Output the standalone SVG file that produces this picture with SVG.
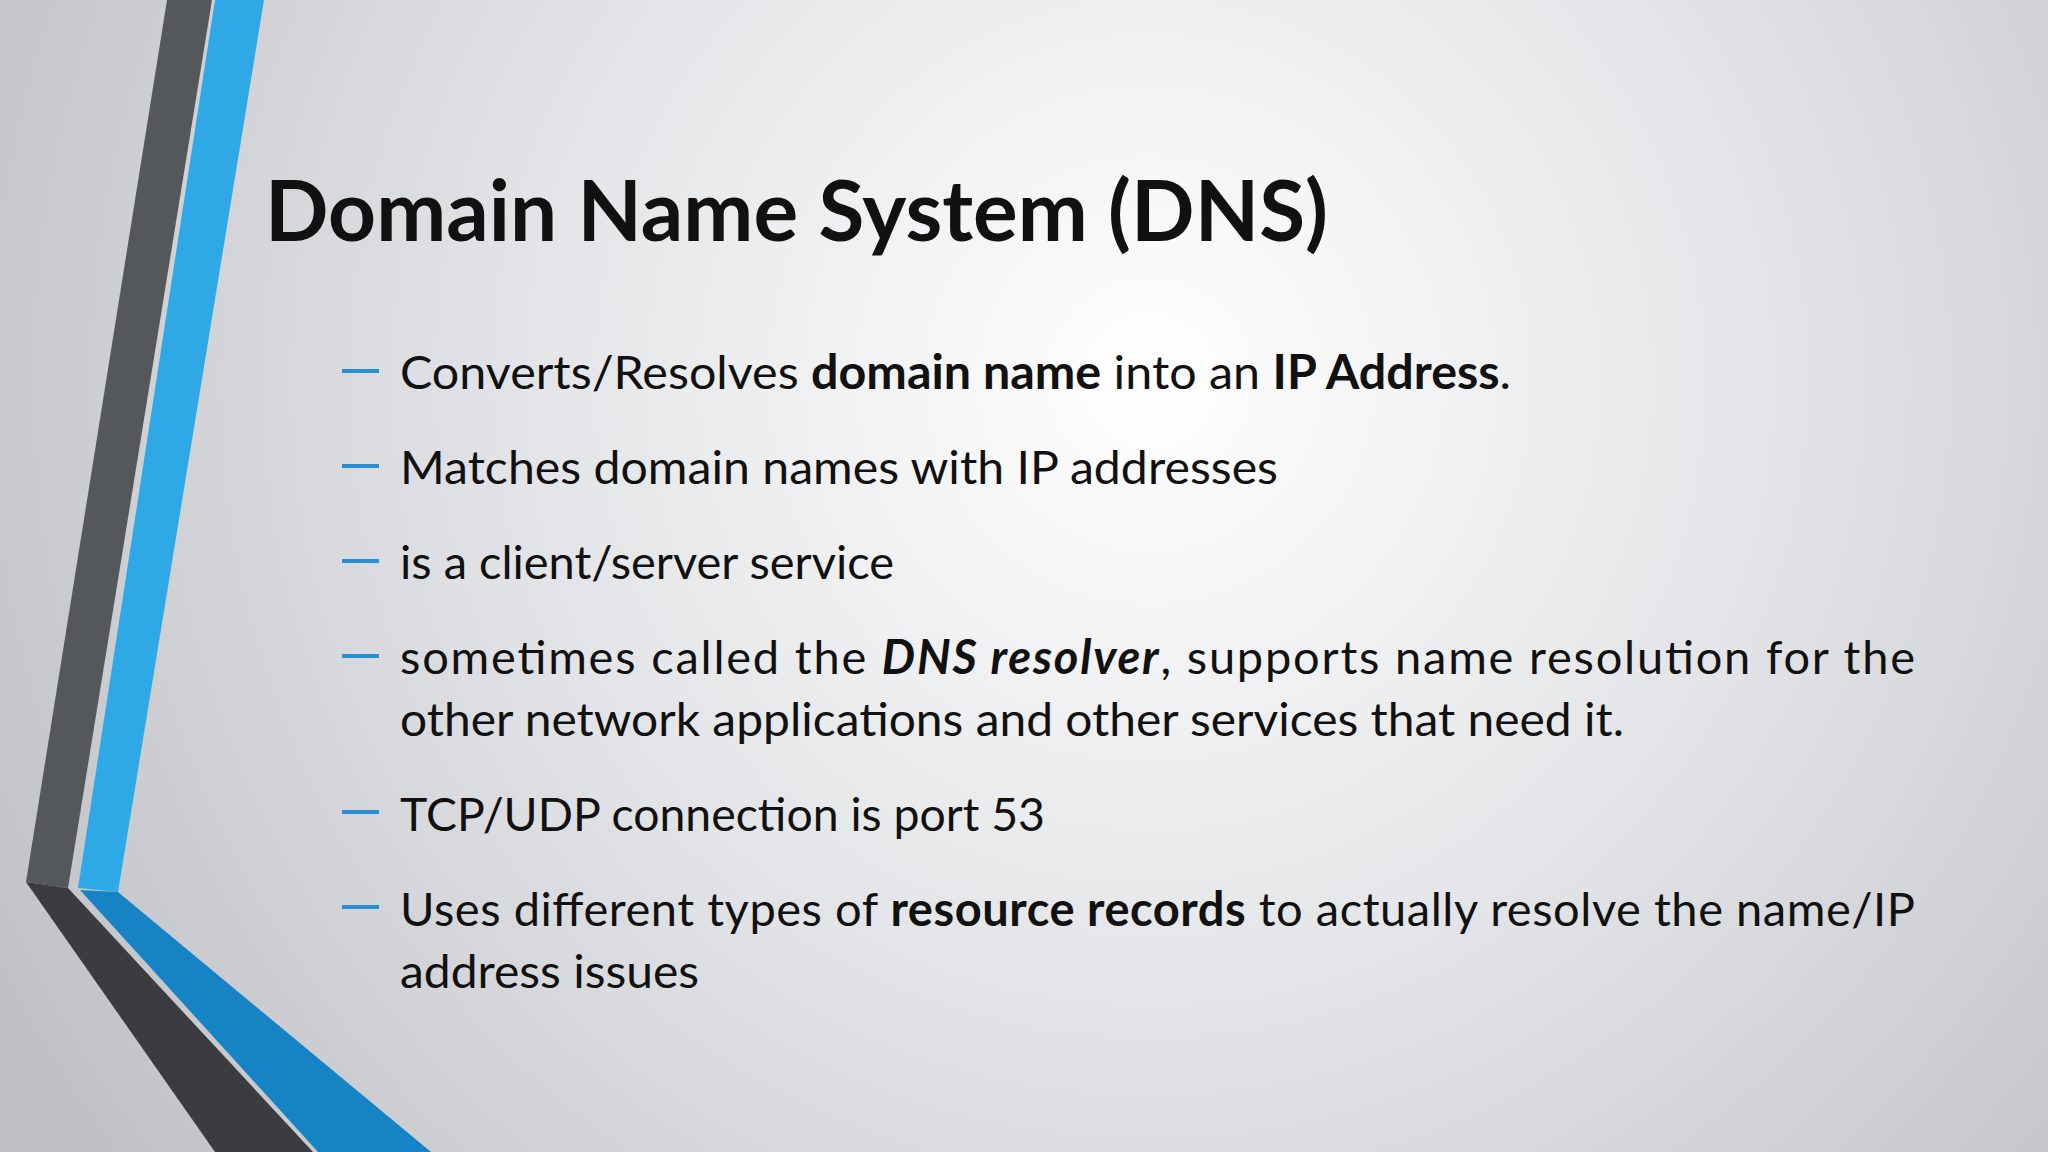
<svg xmlns="http://www.w3.org/2000/svg" width="2048" height="1152" viewBox="0 0 2048 1152">
<defs>
<radialGradient id="bg" cx="1150" cy="380" r="1300" gradientUnits="userSpaceOnUse">
<stop offset="0" stop-color="#ffffff"/>
<stop offset="0.5" stop-color="#e2e3e6"/>
<stop offset="1" stop-color="#bfc1c6"/>
</radialGradient>
<style>
.t{font-family:Lato,"Open Sans",sans-serif;fill:#111;}
.b{font-size:47px;}
.bd{font-weight:bold;}
.dash{stroke:#2a8fd0;stroke-width:4;}
</style>
</defs>
<rect width="2048" height="1152" fill="url(#bg)"/>
<g id="decor">
<polygon points="167,0 212,0 68,888 26,882" fill="#55585b"/>
<polygon points="26,882 68,888 313,1152 215,1152" fill="#3a3c3f"/>
<polygon points="215,0 264,0 118,892 78,888" fill="#2fa9e6"/>
<polygon points="80,890 118,892 431,1152 318,1152" fill="#1583c4"/>
</g>
<text class="t bd" x="265" y="241" font-size="84" textLength="1063" lengthAdjust="spacingAndGlyphs">Domain Name System (DNS)</text>
<g id="bullets">
<line class="dash" x1="342" y1="371" x2="379" y2="371"/>
<line class="dash" x1="342" y1="466" x2="379" y2="466"/>
<line class="dash" x1="342" y1="561" x2="379" y2="561"/>
<line class="dash" x1="342" y1="656" x2="379" y2="656"/>
<line class="dash" x1="342" y1="812" x2="379" y2="812"/>
<line class="dash" x1="342" y1="907" x2="379" y2="907"/>
<text class="t b" x="400" y="389" textLength="1111" lengthAdjust="spacingAndGlyphs">Converts/Resolves <tspan class="bd">domain name</tspan> into an <tspan class="bd">IP Address</tspan>.</text>
<text class="t b" x="400" y="484" textLength="878" lengthAdjust="spacingAndGlyphs">Matches domain names with IP addresses</text>
<text class="t b" x="400" y="579" textLength="494" lengthAdjust="spacingAndGlyphs">is a client/server service</text>
<text class="t b" x="400" y="674" textLength="1515" lengthAdjust="spacing">sometimes called the <tspan class="bd" font-style="italic">DNS resolver</tspan>, supports name resolution for the</text>
<text class="t b" x="400" y="736" textLength="1224" lengthAdjust="spacingAndGlyphs">other network applications and other services that need it.</text>
<text class="t b" x="400" y="831" textLength="645" lengthAdjust="spacingAndGlyphs">TCP/UDP connection is port 53</text>
<text class="t b" x="400" y="926" textLength="1515" lengthAdjust="spacing">Uses different types of <tspan class="bd">resource records</tspan> to actually resolve the name/IP</text>
<text class="t b" x="400" y="988" textLength="299" lengthAdjust="spacingAndGlyphs">address issues</text>
</g>
</svg>
